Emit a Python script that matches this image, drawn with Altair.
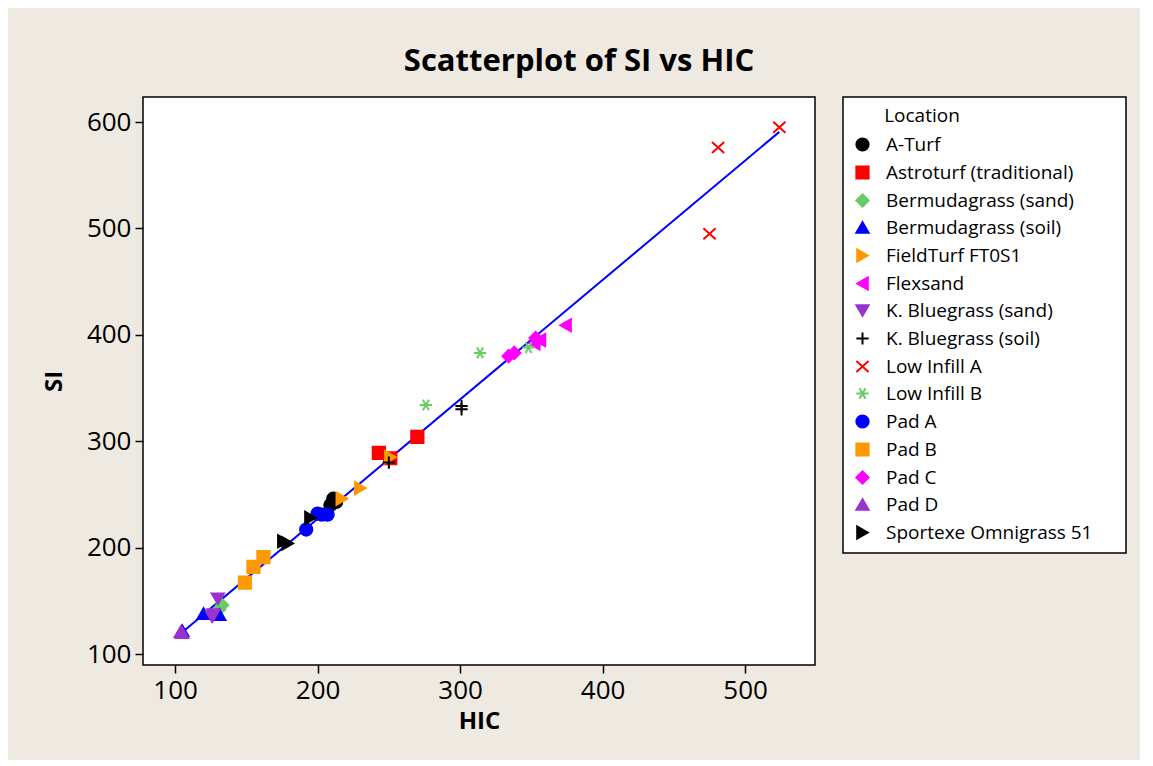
import altair as alt
import pandas as pd

# ---- data ----
location = (
    ["A-Turf"] * 3
    + ["Astroturf (traditional)"] * 3
    + ["Bermudagrass (sand)"] * 2
    + ["Bermudagrass (soil)"] * 3
    + ["FieldTurf FT0S1"] * 3
    + ["Flexsand"] * 3
    + ["K. Bluegrass (sand)"] * 3
    + ["K. Bluegrass (soil)"] * 3
    + ["Low Infill A"] * 3
    + ["Low Infill B"] * 3
    + ["Pad A"] * 4
    + ["Pad B"] * 3
    + ["Pad C"] * 3
    + ["Pad D"] * 2
    + ["Sportexe Omnigrass 51"] * 3
)
hic = [211, 209, 213,
       270, 243, 251,
       133, 131,
       105, 120, 131,
       251, 230, 217,
       374, 356, 352,
       130, 127, 126,
       301, 301, 250,
       524, 481, 475,
       314, 276, 348,
       207, 200, 192, 203,
       162, 155, 149,
       334, 338, 353,
       104, 105,
       195, 179, 176]
si = [246, 240, 243,
      304, 289, 284,
      146, 142,
      122, 138, 137,
      285, 256, 246,
      409, 395, 392,
      152, 137, 135,
      333, 330, 280,
      595, 576, 495,
      383, 334, 388,
      231, 232, 217, 231,
      191, 182, 167,
      380, 383, 397,
      121, 120,
      228, 204, 206]

categories = ["A-Turf", "Astroturf (traditional)", "Bermudagrass (sand)",
              "Bermudagrass (soil)", "FieldTurf FT0S1", "Flexsand",
              "K. Bluegrass (sand)", "K. Bluegrass (soil)", "Low Infill A",
              "Low Infill B", "Pad A", "Pad B", "Pad C", "Pad D",
              "Sportexe Omnigrass 51"]
colors = ["#000000", "#FF0000", "#66CC66", "#0000FF", "#FF9900", "#FF00FF",
          "#9933CC", "#000000", "#FF0000", "#66CC66", "#0000FF", "#FF9900",
          "#FF00FF", "#9933CC", "#000000"]
PLUS = "M-1,0L1,0M0,-1L0,1"
XMARK = "M-1,-0.9L1,0.9M-1,0.9L1,-0.9"
AST = "M-1,0L1,0M-0.5,-0.87L0.5,0.87M-0.5,0.87L0.5,-0.87"
shapes = ["circle", "square", "diamond", "triangle-up", "triangle-right",
          "triangle-left", "triangle-down", PLUS, XMARK, AST, "circle",
          "square", "diamond", "triangle-up", "triangle-right"]

df = pd.DataFrame({"Location": location, "HIC": hic, "SI": si})

FONT = "Open Sans"
BLANK = "\u2800"

xscale = alt.Scale(domain=[77.5, 549], nice=False, zero=False)
yscale = alt.Scale(domain=[89.7, 623.5], nice=False, zero=False)

xaxis = alt.Axis(values=[100, 200, 300, 400, 500], title="HIC")
yaxis = alt.Axis(values=[100, 200, 300, 400, 500, 600], title="SI")

legend = alt.Legend(
    title=BLANK * 2 + "\u2009Location",
    orient="none", legendX=700, legendY=0,
    labelExpr="datum.label + '\u2002" + BLANK + "'",
)

cscale = alt.Scale(domain=categories, range=colors)
sscale = alt.Scale(domain=categories, range=shapes)

base = alt.Chart(df)

line = base.transform_regression("HIC", "SI").mark_line(
    color="#0000FF", strokeWidth=2
).encode(
    x=alt.X("HIC:Q", scale=xscale, axis=xaxis),
    y=alt.Y("SI:Q", scale=yscale, axis=yaxis),
)

points = base.mark_point(filled=True, size=150, strokeWidth=2, opacity=1).encode(
    x=alt.X("HIC:Q", scale=xscale, axis=xaxis),
    y=alt.Y("SI:Q", scale=yscale, axis=yaxis),
    fill=alt.Fill("Location:N", scale=cscale, legend=legend),
    stroke=alt.Stroke("Location:N", scale=cscale, legend=legend),
    shape=alt.Shape("Location:N", scale=sscale, legend=legend),
)

chart = alt.layer(line, points).properties(
    width=672, height=568,
    autosize=alt.AutoSizeParams(type="none"),
    padding={"left": 135, "top": 89, "right": 325, "bottom": 95},
    background="#EEEAE1",
    title=alt.TitleParams(
        "Scatterplot of SI vs HIC", font=FONT, fontSize=31, fontWeight="bold",
        color="#000000", anchor="middle", frame="group", dx=100, offset=18,
    ),
).configure_view(
    fill="#FFFFFF", stroke="#000000", strokeWidth=1.5
).configure_axis(
    domain=False, grid=False, ticks=True, tickColor="#000000", tickSize=8,
    tickWidth=1.5, labelFont=FONT, labelFontSize=26, labelColor="#000000",
    titleFont=FONT, titleFontSize=24, titleFontWeight="bold", titleColor="#000000",
    labelPadding=4,
).configure_axisX(
    titlePadding=6
).configure_axisY(
    titlePadding=20
).configure_legend(
    fillColor="#FFFFFF", strokeColor="#000000", strokeWidth=1.5, padding=10,
    labelFont=FONT, labelFontSize=19, labelColor="#000000",
    titleFont=FONT, titleFontSize=19, titleFontWeight="normal", titleColor="#000000",
    symbolSize=150, symbolStrokeWidth=2, labelOffset=14, rowPadding=7.0,
    titlePadding=9, labelLimit=400,
)

chart.save("out.html", embed_options={"renderer": "svg", "actions": False})
